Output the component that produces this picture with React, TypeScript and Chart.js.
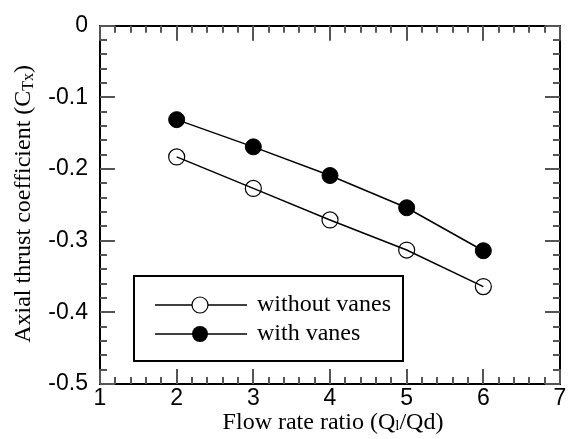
import React, { useEffect, useRef } from 'react';
import { Chart, registerables } from 'chart.js';

Chart.register(...registerables);

// ---- data ----
const flowRatio = [2, 3, 4, 5, 6];
const withoutVanes = [-0.183, -0.227, -0.271, -0.313, -0.364];
const withVanes = [-0.131, -0.169, -0.209, -0.254, -0.314];
const seriesNames = ['without vanes', 'with vanes'];
const xTickLabels = ['1', '2', '3', '4', '5', '6', '7'];
const yTickLabels = ['0', '-0.1', '-0.2', '-0.3', '-0.4', '-0.5'];
const xTitleParts = ['Flow rate ratio (Q', 'l', '/Qd)'];
const yTitleParts = ['Axial thrust coefficient (C', 'Tx', ')'];

const SERIF = '"Liberation Serif", "Times New Roman", serif';
const SANS = '"Liberation Sans", Arial, sans-serif';

function labelFor(list: string[], v: number) {
  const found = list.find((s) => Math.abs(Number(s) - v) < 1e-6);
  return found ?? '';
}

function drawParts(ctx: CanvasRenderingContext2D, parts: string[], cx: number, cy: number, size: number, subSize: number, subShift: number) {
  const fonts = parts.map((_, i) => (i === 1 ? `${subSize}px ${SERIF}` : `${size}px ${SERIF}`));
  const widths = parts.map((p, i) => {
    ctx.font = fonts[i];
    return ctx.measureText(p).width;
  });
  const total = widths.reduce((a, b) => a + b, 0);
  let x = cx - total / 2;
  ctx.textBaseline = 'middle';
  ctx.textAlign = 'left';
  parts.forEach((p, i) => {
    ctx.font = fonts[i];
    ctx.fillText(p, x, cy + (i === 1 ? subShift : 0));
    x += widths[i];
  });
}

// inward tick marks on all four sides, placed by the chart's own scales
const tickMarksPlugin = {
  id: 'tickMarks',
  afterDraw(chart: any) {
    const ctx = chart.ctx;
    const ca = chart.chartArea;
    const scales = chart.scales;
    ctx.save();
    ctx.strokeStyle = '#555555';
    ctx.lineWidth = 2;
    const sets: any[] = [['x2', 7], ['y2', 7], ['x', 15], ['y', 15]];
    for (const [id, len] of sets) {
      const sc = scales[id];
      if (!sc || !sc.ticks) continue;
      for (const t of sc.ticks) {
        const p = Math.round(sc.getPixelForValue(t.value));
        ctx.beginPath();
        if (sc.isHorizontal()) {
          ctx.moveTo(p, ca.bottom);
          ctx.lineTo(p, ca.bottom - len);
          ctx.moveTo(p, ca.top);
          ctx.lineTo(p, ca.top + len);
        } else {
          ctx.moveTo(ca.left, p);
          ctx.lineTo(ca.left + len, p);
          ctx.moveTo(ca.right, p);
          ctx.lineTo(ca.right - len, p);
        }
        ctx.stroke();
      }
    }
    ctx.restore();
  },
};

const overlayPlugin = {
  id: 'overlay',
  afterDraw(chart: any) {
    const { ctx, chartArea: ca } = chart;
    ctx.save();
    ctx.fillStyle = '#000';
    ctx.strokeStyle = '#000';

    // axis titles
    drawParts(ctx, xTitleParts, (ca.left + ca.right) / 2 + 3, 423, 24, 15, 3);
    ctx.save();
    ctx.translate(24, (ca.top + ca.bottom) / 2 - 1);
    ctx.rotate(-Math.PI / 2);
    drawParts(ctx, yTitleParts, 0, 0, 24, 16, 5);
    ctx.restore();

    // legend
    const bx = ca.left + 34;
    const by = 276;
    ctx.lineWidth = 2;
    ctx.strokeRect(bx, by, 269, 85);
    const rows = [305, 334];
    seriesNames.forEach((name, i) => {
      const y = rows[i];
      ctx.lineWidth = 1.5;
      ctx.beginPath();
      ctx.moveTo(bx + 21, y);
      ctx.lineTo(bx + 113, y);
      ctx.stroke();
      ctx.beginPath();
      ctx.arc(bx + 66, y, 8, 0, Math.PI * 2);
      if (i === 0) {
        ctx.fillStyle = '#fff';
        ctx.fill();
        ctx.lineWidth = 1.2;
        ctx.stroke();
      } else {
        ctx.fillStyle = '#000';
        ctx.fill();
      }
      ctx.fillStyle = '#000';
      ctx.font = `24px ${SERIF}`;
      ctx.textAlign = 'left';
      ctx.textBaseline = 'middle';
      ctx.fillText(name, bx + 123, y);
    });
    ctx.restore();
  },
};

export default function App() {
  const ref = useRef<HTMLCanvasElement | null>(null);

  useEffect(() => {
    document.body.style.margin = '0';
    const canvas = ref.current;
    if (!canvas) return;
    const chart = new Chart(canvas, {
      type: 'line',
      data: {
        datasets: [
          {
            label: seriesNames[0],
            data: flowRatio.map((x, i) => ({ x, y: withoutVanes[i] })),
            borderColor: '#000',
            borderWidth: 1.5,
            pointRadius: 8,
            pointBorderWidth: 1.2,
            pointBorderColor: '#000',
            pointBackgroundColor: 'rgba(0,0,0,0)',
            fill: false,
            tension: 0,
          },
          {
            label: seriesNames[1],
            data: flowRatio.map((x, i) => ({ x, y: withVanes[i] })),
            borderColor: '#000',
            borderWidth: 1.5,
            pointRadius: 8,
            pointBorderWidth: 1,
            pointBorderColor: '#000',
            pointBackgroundColor: '#000',
            fill: false,
            tension: 0,
          },
        ],
      },
      options: {
        animation: false,
        responsive: false,
        events: [],
        layout: { padding: { left: 0, top: 20, right: 14, bottom: 0 } },
        plugins: { legend: { display: false }, tooltip: { enabled: false } },
        scales: {
          x: {
            type: 'linear',
            position: 'bottom',
            min: 1,
            max: 7,
            ticks: {
              stepSize: 1,
              autoSkip: false,
              maxRotation: 0,
              padding: 1,
              color: '#000',
              font: { family: SANS, size: 23 },
              callback: (v: any) => labelFor(xTickLabels, Number(v)),
            },
            grid: { display: false, drawTicks: false },
            border: { display: true, color: '#000', width: 2 },
            afterFit: (s: any) => { s.height = 55; },
          },
          x2: {
            type: 'linear',
            position: 'top',
            min: 1,
            max: 7,
            ticks: { display: false, stepSize: 0.2 },
            grid: { display: false, drawTicks: false },
            border: { display: true, color: '#000', width: 2 },
            afterFit: (s: any) => { s.height = 0; },
          },
          y: {
            type: 'linear',
            position: 'left',
            min: -0.5,
            max: 0,
            ticks: {
              stepSize: 0.1,
              autoSkip: false,
              padding: 12,
              color: '#000',
              font: { family: SANS, size: 23 },
              callback: (v: any) => labelFor(yTickLabels, Number(v)),
            },
            grid: { display: false, drawTicks: false },
            border: { display: true, color: '#000', width: 2 },
            afterFit: (s: any) => { s.width = 100; },
          },
          y2: {
            type: 'linear',
            position: 'right',
            min: -0.5,
            max: 0,
            ticks: { display: false, stepSize: 0.02 },
            grid: { display: false, drawTicks: false },
            border: { display: true, color: '#000', width: 2 },
            afterFit: (s: any) => { s.width = 0; },
          },
        },
      } as any,
      plugins: [tickMarksPlugin, overlayPlugin],
    });
    return () => chart.destroy();
  }, []);

  return (
    <div style={{ width: 574, height: 439, background: '#fff' }}>
      <canvas ref={ref} width={574} height={439} style={{ display: 'block' }} />
    </div>
  );
}
